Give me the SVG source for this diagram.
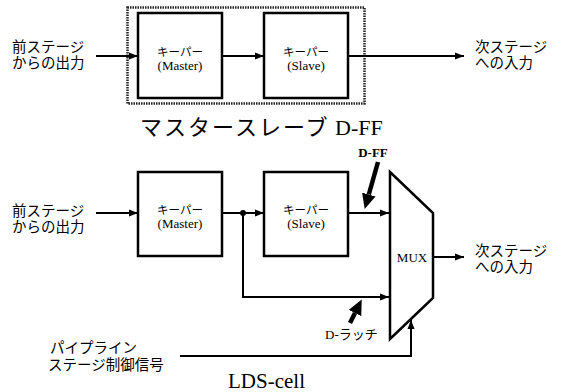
<svg xmlns="http://www.w3.org/2000/svg" width="561" height="392" viewBox="0 0 561 392">
<defs>
<marker id="ah" markerUnits="userSpaceOnUse" markerWidth="10" markerHeight="8" refX="9" refY="4" orient="auto">
<path d="M0,0.5 L9,4 L0,7.5 z" fill="#000"/>
</marker>
<marker id="big" markerUnits="userSpaceOnUse" markerWidth="16" markerHeight="14" refX="0" refY="7" orient="auto">
<path d="M0,0 L15,7 L0,14 z" fill="#000"/>
</marker>
</defs>
<style>
.box{fill:#fff;stroke:#000;stroke-width:2.5}
.arr{fill:none;stroke:#000;stroke-width:2;marker-end:url(#ah)}
.thick{fill:none;stroke:#000;stroke-width:4.5;marker-end:url(#big)}
.jp{font-family:'Noto Sans CJK JP',sans-serif;font-size:14.5px;fill:#000}
.jps{font-family:'Noto Sans CJK JP',sans-serif;font-size:11.5px;fill:#000}
</style>
<rect width="561" height="392" fill="#fff"/>

<g id="dff-frame">
<rect x="127.5" y="7.5" width="237" height="96" fill="none" stroke="#222" stroke-width="2.5" stroke-dasharray="1.5 1"/>
</g>

<g id="connectors">
<line class="arr" x1="96" y1="56" x2="138" y2="56"/>
<line class="arr" x1="222" y1="56" x2="264" y2="56"/>
<line class="arr" x1="348" y1="56" x2="464" y2="56"/>

<line class="arr" x1="96" y1="213" x2="138" y2="213"/>
<line class="arr" x1="222" y1="213" x2="264" y2="213"/>
<circle cx="243" cy="213" r="3" fill="#000"/>
<polyline class="arr" points="243,213 243,297 389,297"/>
<line class="arr" x1="348" y1="213" x2="389" y2="213"/>
<line class="arr" x1="433" y1="257" x2="464" y2="257"/>
<polyline class="arr" points="180,356 411,356 411,320"/>

<line class="thick" x1="378" y1="162" x2="368.8" y2="194.5"/>
<line class="thick" x1="350" y1="323" x2="355" y2="313"/>
</g>

<g id="master-top">
<rect class="box" x="138" y="13" width="84" height="85"/>
<text class="jps" x="180" y="56" text-anchor="middle">キーパー</text>
<text x="180" y="70" text-anchor="middle" font-family="Liberation Serif, DejaVu Serif, serif" font-size="13">(Master)</text>
</g>
<g id="slave-top">
<rect class="box" x="264" y="13" width="84" height="85"/>
<text class="jps" x="306" y="56" text-anchor="middle">キーパー</text>
<text x="306" y="70" text-anchor="middle" font-family="Liberation Serif, DejaVu Serif, serif" font-size="13">(Slave)</text>
</g>
<g id="in-top">
<text class="jp" x="12" y="52">前ステージ</text>
<text class="jp" x="12" y="68">からの出力</text>
</g>
<g id="out-top">
<text class="jp" x="475" y="52">次ステージ</text>
<text class="jp" x="475" y="68">への入力</text>
</g>
<g id="title-top">
<text x="140" y="135" font-size="22"><tspan font-family="Noto Sans CJK JP, sans-serif" letter-spacing="2">マスタースレーブ</tspan><tspan font-family="Liberation Serif, DejaVu Serif, serif"> D-FF</tspan></text>
</g>

<g id="master-bottom">
<rect class="box" x="138" y="172" width="84" height="84"/>
<text class="jps" x="180" y="214" text-anchor="middle">キーパー</text>
<text x="180" y="228" text-anchor="middle" font-family="Liberation Serif, DejaVu Serif, serif" font-size="13">(Master)</text>
</g>
<g id="slave-bottom">
<rect class="box" x="264" y="172" width="84" height="84"/>
<text class="jps" x="306" y="214" text-anchor="middle">キーパー</text>
<text x="306" y="228" text-anchor="middle" font-family="Liberation Serif, DejaVu Serif, serif" font-size="13">(Slave)</text>
</g>
<g id="mux">
<polygon points="390,172 433,213 433,298 390,339" fill="#fff" stroke="#000" stroke-width="2.5"/>
<text x="412" y="262" text-anchor="middle" font-family="Liberation Serif, DejaVu Serif, serif" font-size="13">MUX</text>
</g>
<g id="in-bottom">
<text class="jp" x="12" y="216">前ステージ</text>
<text class="jp" x="12" y="232">からの出力</text>
</g>
<g id="out-bottom">
<text class="jp" x="475" y="256">次ステージ</text>
<text class="jp" x="475" y="272">への入力</text>
</g>
<g id="ctrl">
<text class="jp" x="50" y="353">パイプライン</text>
<text class="jp" x="48" y="370">ステージ制御信号</text>
</g>
<g id="label-dff">
<text x="373" y="157" text-anchor="middle" font-weight="bold" font-family="Liberation Serif, DejaVu Serif, serif" font-size="13">D-FF</text>
</g>
<g id="label-latch">
<text x="325" y="339" font-size="13"><tspan font-family="Liberation Serif, DejaVu Serif, serif">D-</tspan><tspan font-family="Noto Sans CJK JP, sans-serif">ラッチ</tspan></text>
</g>
<g id="title-bottom">
<text x="228" y="388" font-family="Liberation Serif, DejaVu Serif, serif" font-size="21">LDS-cell</text>
</g>
</svg>
